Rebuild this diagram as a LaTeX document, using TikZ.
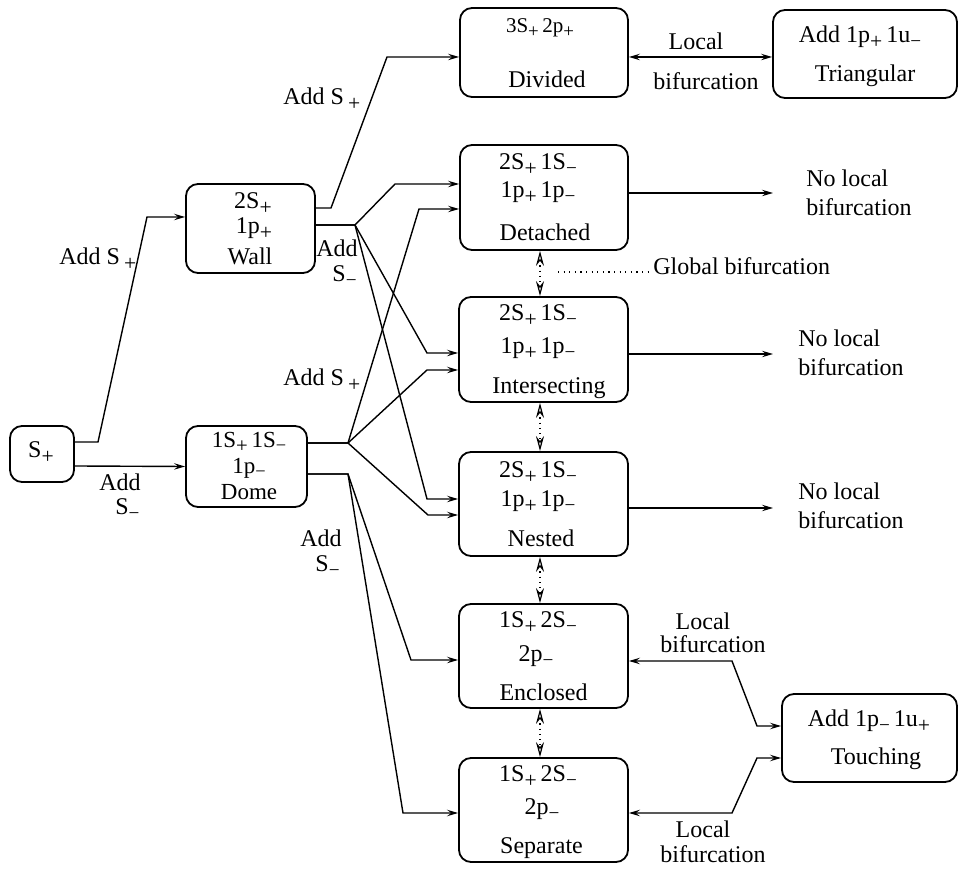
\documentclass[tikz,border=0pt]{standalone}
\usepackage{fontspec}
\usepackage{graphicx}
\setmainfont{Liberation Serif}
\usetikzlibrary{arrows.meta}
\newcommand{\subP}{\raisebox{-0.5ex}{\scalebox{0.9}{+}}}
\newcommand{\subM}{\raisebox{-0.4ex}{\scalebox{0.8}{−}}}
\begin{document}
\begin{tikzpicture}[x=0.5pt,y=-0.5pt,
  font=\fontsize{12}{14}\selectfont,
  box/.style={draw, line width=0.9pt, rounded corners=6pt, inner sep=0pt},
  txt/.style={anchor=base, inner sep=0pt},
  ltxt/.style={anchor=base west, inner sep=0pt},
  conn/.style={line width=0.7pt, -{Stealth[length=5.5pt,width=3.2pt,inset=2pt]}},
  dconn/.style={line width=0.7pt, {Stealth[length=5.5pt,width=3.2pt,inset=2pt]}-{Stealth[length=5.5pt,width=3.2pt,inset=2pt]}},
  gconn/.style={line width=0.6pt, dash pattern=on 0.6pt off 2pt, {Stealth[open,length=7.5pt,width=4pt,inset=2.5pt]}-{Stealth[open,length=7.5pt,width=4pt,inset=2.5pt]}},
  lead/.style={line width=0.6pt, dash pattern=on 0.6pt off 2.2pt}]
\useasboundingbox (0,0) rectangle (959,870);

% boxes
\node[box, minimum width=32pt, minimum height=28pt] (sp) at (42,454) {};
\node[box, minimum width=64.5pt, minimum height=44.5pt] (wall) at (250.5,228.5) {};
\node[box, minimum width=60.5pt, minimum height=40.5pt] (dome) at (246.5,466.5) {};
\node[box, minimum width=84pt, minimum height=44.5pt] (div) at (544,52.5) {};
\node[box, minimum width=92pt, minimum height=44pt] (tri) at (865,54) {};
\node[box, minimum width=84pt, minimum height=52.5pt] (det) at (544,197.5) {};
\node[box, minimum width=84.5pt, minimum height=52.5pt] (int) at (543.5,349.5) {};
\node[box, minimum width=84.5pt, minimum height=52pt] (nes) at (543.5,504) {};
\node[box, minimum width=84.5pt, minimum height=52pt] (enc) at (543.5,656) {};
\node[box, minimum width=84.5pt, minimum height=52pt] (sep) at (543.5,810) {};
\node[box, minimum width=87.5pt, minimum height=44pt] (tou) at (869.5,738) {};

% box texts
\node[txt] (spT) at (41,458) {S\subP};
\node[txt] (wT1) at (253,209) {2S\subP};
\node[txt] (wT2) at (254,234) {1p\subP};
\node[txt] (wT3) at (250,265) {Wall};
\node[align=center, inner sep=0pt, font=\fontsize{11.5}{13.2}\selectfont] (dT) at (249,466) {1S\subP\,1S\subM\\1p\subM\\Dome};
\node[txt, font=\fontsize{10.5}{12}\selectfont] (dvT1) at (540,33) {3S\subP\,2p\subP};
\node[txt] (dvT2) at (547,88) {Divided};
\node[txt] (trT1) at (860,43) {Add 1p\subP\,1u\subM};
\node[txt] (trT2) at (865,82) {Triangular};
\node[txt] (deT1) at (538,170) {2S\subP\,1S\subM};
\node[txt] (deT2) at (538,198) {1p\subP\,1p\subM};
\node[txt] (deT3) at (545,241) {Detached};
\node[txt] (inT1) at (538,321) {2S\subP\,1S\subM};
\node[txt] (inT2) at (538,354) {1p\subP\,1p\subM};
\node[txt] (inT3) at (549,394) {Intersecting};
\node[txt] (neT1) at (538,478) {2S\subP\,1S\subM};
\node[txt] (neT2) at (538,507) {1p\subP\,1p\subM};
\node[txt] (neT3) at (541,547) {Nested};
\node[txt] (enT1) at (538,628) {1S\subP\,2S\subM};
\node[txt] (enT2) at (536,662) {2p\subM};
\node[txt] (enT3) at (543.5,701) {Enclosed};
\node[txt] (seT1) at (538,782) {1S\subP\,2S\subM};
\node[txt] (seT2) at (542,815) {2p\subM};
\node[txt] (seT3) at (541.5,854) {Separate};
\node[txt] (toT1) at (869,727) {Add 1p\subM\,1u\subP};
\node[txt] (toT2) at (876,765) {Touching};

% edge labels
\node[ltxt] (lA) at (59,265) {Add S\hspace{2pt}\subP};
\node[ltxt] (lB) at (283,105) {Add S\hspace{2pt}\subP};
\node[ltxt] (lC) at (283,386) {Add S\hspace{2pt}\subP};
\node[ltxt] (lD1) at (316,257) {Add};
\node[ltxt] (lD2) at (332,282) {S\subM};
\node[ltxt] (lE1) at (99,491) {Add};
\node[ltxt] (lE2) at (115,515) {S\subM};
\node[ltxt] (lF1) at (300,547) {Add};
\node[ltxt] (lF2) at (315,572) {S\subM};
\node[txt] (lb1a) at (696,50) {Local};
\node[txt] (lb1b) at (706,90) {bifurcation};
\node[txt] (lb2a) at (703,630) {Local};
\node[txt] (lb2b) at (713,653) {bifurcation};
\node[txt] (lb3a) at (703,838) {Local};
\node[txt] (lb3b) at (713,863) {bifurcation};
\node[ltxt] (nl1a) at (806,187) {No local};
\node[ltxt] (nl1b) at (806,216) {bifurcation};
\node[ltxt] (nl2a) at (798,347) {No local};
\node[ltxt] (nl2b) at (798,376) {bifurcation};
\node[ltxt] (nl3a) at (798,500) {No local};
\node[ltxt] (nl3b) at (798,529) {bifurcation};
\node[ltxt] (gb) at (653,275) {Global bifurcation};

% free ends
\coordinate (e1) at (773,193);
\coordinate (e2) at (773,354);
\coordinate (e3) at (773,508);
\coordinate (gbs) at (558,272);

% connectors
\draw[conn] ([yshift=6pt]sp.east) -- (98,442) -- (147,217) -- ([yshift=5.75pt]wall.west);
\draw[conn] ([yshift=-6pt]sp.east) -- (dome.west);
\draw[conn] ([yshift=10.25pt]wall.east) -- (331,208) -- (387,57) -- ([yshift=-2.25pt]div.west);
\draw[conn] ([yshift=1.75pt]wall.east) -- (355,225) -- (395,184) -- ([yshift=6.75pt]det.west);
\draw[conn] ([yshift=1.75pt]wall.east) -- (355,225) -- (427,353) -- ([yshift=-1.75pt]int.west);
\draw[conn] ([yshift=1.75pt]wall.east) -- (355,225) -- (427,499) -- ([yshift=2.5pt]nes.west);
\draw[conn] ([yshift=11.75pt]dome.east) -- (348,443) -- (419,209) -- ([yshift=-5.75pt]det.west);
\draw[conn] ([yshift=11.75pt]dome.east) -- (348,443) -- (427,370) -- ([yshift=-10.25pt]int.west);
\draw[conn] ([yshift=11.75pt]dome.east) -- (348,443) -- (428,515) -- ([yshift=-5.5pt]nes.west);
\draw[conn] ([yshift=-3.75pt]dome.east) -- (348,474) -- (411,660) -- ([yshift=-2pt]enc.west);
\draw[conn] ([yshift=-3.75pt]dome.east) -- (348,474) -- (403,813) -- ([yshift=-1.5pt]sep.west);
\draw[dconn] ([yshift=-2.25pt]div.east) -- ([yshift=-1.5pt]tri.west);
\draw[conn] ([yshift=2.25pt]det.east) -- (e1);
\draw[conn] ([yshift=-2.25pt]int.east) -- (e2);
\draw[conn] ([yshift=-2pt]nes.east) -- (e3);
\draw[dconn] ([yshift=-2.5pt]enc.east) -- (732,661) -- (757,726) -- ([yshift=6pt]tou.west);
\draw[dconn] ([yshift=-1.5pt]sep.east) -- (732,813) -- (757,758) -- ([yshift=-10pt]tou.west);

% global bifurcation
\draw[gconn] ([xshift=-2pt]det.south) -- ([xshift=-1.75pt]int.north);
\draw[gconn] ([xshift=-1.75pt]int.south) -- ([xshift=-1.75pt]nes.north);
\draw[gconn] ([xshift=-1.75pt]nes.south) -- ([xshift=-1.75pt]enc.north);
\draw[gconn] ([xshift=-1.75pt]enc.south) -- ([xshift=-1.75pt]sep.north);
\draw[lead] (gbs) -- ([yshift=1.5pt]gb.base west);
\end{tikzpicture}
\end{document}
